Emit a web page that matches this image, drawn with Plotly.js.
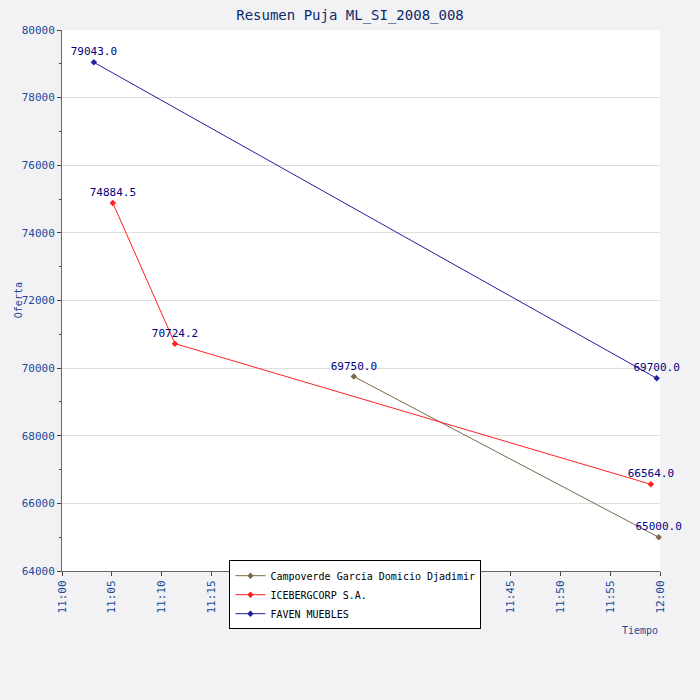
<!DOCTYPE html>
<html>
<head>
<script src="https://cdn.plot.ly/plotly-3.0.1.min.js"></script>
<style>body{margin:0;}</style>
</head>
<body>
<div id="chart" style="width:700px;height:700px;"></div>
<script>
// bids per bidder
var campoTimes = ['2008-01-01 11:29:17', '2008-01-01 11:59:52'];
var campoBids = [69750.0, 65000.0];
var iceTimes = ['2008-01-01 11:05:06', '2008-01-01 11:11:20', '2008-01-01 11:59:05'];
var iceBids = [74884.5, 70724.2, 66564.0];
var favenTimes = ['2008-01-01 11:03:12', '2008-01-01 11:59:40'];
var favenBids = [79043.0, 69700.0];

function serie(name, x, y, color) {
    return {
        x: x, y: y, name: name,
        mode: 'lines+markers+text',
        type: 'scatter',
        cliponaxis: false,
        text: y.map(function (v) { return v.toFixed(1); }),
        textposition: 'top center',
        textfont: {family: 'DejaVu Sans Mono', size: 11, color: '#000080'},
        line: {color: color, width: 1},
        marker: {symbol: 'diamond', size: 5, color: color}
    };
}

var data = [
    serie('Campoverde Garcia Domicio Djadimir', campoTimes, campoBids, '#7a6a45'),
    serie('ICEBERGCORP S.A.', iceTimes, iceBids, '#ff2020'),
    serie('FAVEN MUEBLES', favenTimes, favenBids, '#2020a0')
];

var layout = {
    paper_bgcolor: '#f2f2f4',
    plot_bgcolor: '#ffffff',
    margin: {l: 62, r: 40, t: 30, b: 129},
    font: {family: 'DejaVu Sans Mono', size: 11, color: '#000'},
    title: {text: 'Resumen Puja ML_SI_2008_008', x: 0.5, y: 0.985,
            font: {family: 'DejaVu Sans Mono', size: 14, color: '#0b2a6e'}},
    xaxis: {
        type: 'date',
        range: ['2008-01-01 11:00', '2008-01-01 12:00'],
        dtick: 300000, tickformat: '%H:%M', tickangle: -90,
        showgrid: false, ticks: 'outside', ticklen: 4,
        tickfont: {color: '#1a4a9a', size: 11},
        showline: true, linecolor: '#666', zeroline: false
    },
    yaxis: {
        range: [64000, 80000], dtick: 2000, tickformat: 'd',
        showgrid: true, gridcolor: '#dddddd',
        ticks: 'outside', ticklen: 4,
        minor: {dtick: 1000, ticks: 'outside', ticklen: 2, showgrid: false},
        tickfont: {color: '#1a4a9a', size: 11},
        showline: true, linecolor: '#666', zeroline: false
    },
    showlegend: true,
    legend: {x: 0.28, y: 0.02, xanchor: 'left', yanchor: 'top',
             bgcolor: '#ffffff', bordercolor: '#000', borderwidth: 1,
             font: {size: 10, color: '#000'}, tracegroupgap: 0},
    annotations: [
        {text: 'Oferta', xref: 'paper', yref: 'paper', x: -0.085, y: 0.5,
         textangle: -90, showarrow: false, font: {color: '#1a4a9a', size: 10}},
        {text: 'Tiempo', xref: 'paper', yref: 'paper', x: 1.0, y: -0.11,
         xanchor: 'right', yanchor: 'middle', showarrow: false,
         font: {color: '#1a4a9a', size: 10}}
    ]
};

Plotly.newPlot('chart', data, layout, {displayModeBar: false});
</script>
</body>
</html>
